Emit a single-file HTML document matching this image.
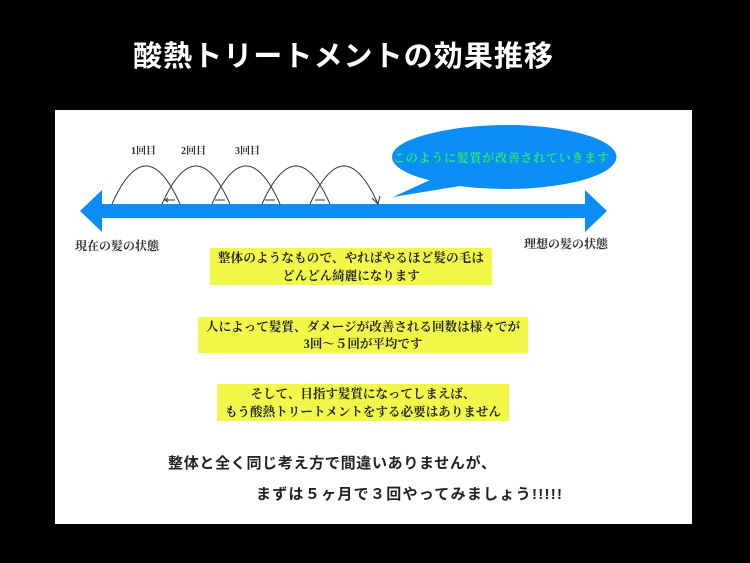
<!DOCTYPE html>
<html><head><meta charset="utf-8"><style>
html,body{margin:0;padding:0;background:#000;width:750px;height:563px;overflow:hidden}
svg{display:block}
.t{font-family:"Liberation Sans","Noto Sans CJK JP",sans-serif}
.s{font-family:"Liberation Serif","Noto Serif CJK SC","Noto Sans CJK JP",serif}
</style></head><body>
<svg width="750" height="563" viewBox="0 0 750 563" xmlns="http://www.w3.org/2000/svg">
<rect width="750" height="563" fill="#000"/>
<text x="133" y="66" class="t" font-size="29" font-weight="bold" fill="#fff" textLength="420">酸熱トリートメントの効果推移</text>
<rect x="55" y="110" width="637" height="414" fill="#fff"/>
<polygon points="80,211 102,190 102,204 585,204 585,190 607,211 585,232 585,218 102,218 102,232" fill="#0a8ef5"/>
<g fill="none" stroke="#333" stroke-width="1">
<path d="M112,204 Q146,128 180,204"/>
<path d="M162,204 Q196,128 230,204"/>
<path d="M212,204 Q246,128 280,204"/>
<path d="M262,204 Q296,128 330,204"/>
<path d="M310,204 Q344,128 378,204"/>
<path d="M372,198 L378,204 L380,196"/>
<path d="M175,200 L165,200 M168,198 L165,200 L168,202"/>
<path d="M225,200 L215,200"/>
<path d="M275,200 L265,200"/>
<path d="M325,200 L315,200"/>
</g>
<g class="s" font-size="10" font-weight="bold" fill="#333">
<text x="131" y="154">1回目</text><text x="181" y="154">2回目</text><text x="235" y="154">3回目</text>
</g>
<path d="M393,197 L430,180 A110,32 0 1 1 460,186 Z" fill="#0a8ef5"/>
<ellipse cx="502" cy="157" rx="110" ry="31" fill="#0a8ef5"/>
<text x="393" y="162" class="s" font-size="12" font-weight="bold" fill="#2ee86a" textLength="216">このように髪質が改善されていきます</text>
<g class="s" font-size="12" font-weight="bold" fill="#333">
<text x="75" y="250">現在の髪の状態</text>
<text x="524" y="248">理想の髪の状態</text>
</g>
<g fill="#f2f84a">
<rect x="210" y="248" width="282" height="37"/>
<rect x="198" y="317" width="330" height="36"/>
<rect x="217" y="384" width="292" height="37"/>
</g>
<g class="s" font-size="12.5" font-weight="bold" fill="#222" text-anchor="middle">
<text x="351" y="262" textLength="266">整体のようなもので、やればやるほど髪の毛は</text>
<text x="351" y="280">どんどん綺麗になります</text>
<text x="363" y="331" textLength="314">人によって髪質、ダメージが改善される回数は様々でが</text>
<text x="363" y="348">3回〜５回が平均です</text>
<text x="363" y="398">そして、目指す髪質になってしまえば、</text>
<text x="363" y="416" textLength="276">もう酸熱トリートメントをする必要はありません</text>
</g>
<g class="t" font-size="15" font-weight="bold" fill="#222">
<text x="168" y="468" textLength="328">整体と全く同じ考え方で間違いありませんが、</text>
<text x="256" y="499" textLength="306">まずは５ヶ月で３回やってみましょう!!!!!</text>
</g>
</svg>
</body></html>
